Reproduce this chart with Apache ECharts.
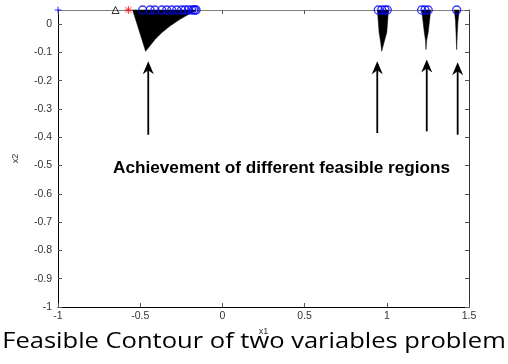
<!DOCTYPE html>
<html>
<head>
<meta charset="utf-8">
<script src="https://cdn.jsdelivr.net/npm/echarts@6/dist/echarts.min.js"></script>
<style>
  html, body { margin: 0; padding: 0; background: #fff; }
  #chart { width: 508px; height: 364px; }
</style>
</head>
<body>
<div id="chart"></div>
<script>
// Axis extents and tick spacing
const xRange = [-1, 1.5];
const xStep = 0.5;
const yRange = [-1, 0.05];
const yStep = 0.1;

// Feasible regions (outline vertices, x1/x2)
const region1 = [[-0.546, 0.05], [-0.467, -0.096], [-0.410, -0.054], [-0.369, -0.030], [-0.319, -0.007],
                 [-0.258, 0.017], [-0.207, 0.034], [-0.167, 0.046], [-0.161, 0.05]];
const region2 = [[0.943, 0.05], [0.953, -0.029], [0.963, -0.065], [0.969, -0.096], [0.983, -0.065],
                 [1.000, -0.029], [1.010, 0.05]];
const region3 = [[1.212, 0.05], [1.228, -0.029], [1.236, -0.060], [1.238, -0.090], [1.242, -0.060],
                 [1.252, -0.029], [1.267, 0.05]];
const region4 = [[1.411, 0.05], [1.418, 0.010], [1.421, -0.030], [1.425, -0.090], [1.429, -0.030],
                 [1.433, 0.010], [1.441, 0.05]];
const regions = [region1, region2, region3, region4];

// Points found on the upper boundary
const circleX = [-0.485, -0.440, -0.410, -0.369, -0.339, -0.308, -0.278, -0.248, -0.227, -0.207,
                 -0.187, -0.175, -0.167, -0.160, 0.948, 0.969, 0.989, 1.003, 1.212, 1.232, 1.252, 1.425];
const circleY = 0.05;
const startPoint = [-1, 0.05];
const starPoint = [-0.572, 0.05];
const trianglePoint = [-0.650, 0.05];

// Arrows: x position, tail and head heights
const arrowX = [-0.451, 0.942, 1.243, 1.431];
const arrowTail = [-0.391, -0.385, -0.379, -0.391];
const arrowHead = [-0.131, -0.131, -0.125, -0.135];

const noteText = 'Achievement of different feasible regions';
const captionText = 'Feasible Contour of two variables problem';

const chart = echarts.init(document.getElementById('chart'), null, { renderer: 'canvas' });

const tickFont = { fontFamily: 'Liberation Sans, Arial, sans-serif', fontSize: 10.5, color: '#333' };

const baseX = {
  type: 'value', min: xRange[0], max: xRange[1], interval: xStep,
  splitLine: { show: false },
  axisTick: { show: true, inside: true, length: 4, lineStyle: { color: '#555' } }
};
const baseY = {
  type: 'value', min: yRange[0], max: yRange[1], interval: yStep,
  splitLine: { show: false },
  axisTick: { show: true, inside: true, length: 4, lineStyle: { color: '#555' } }
};

chart.setOption({
  animation: false,
  backgroundColor: '#fff',
  grid: { left: 58, right: 39, top: 10, bottom: 57, containLabel: false },
  xAxis: [
    Object.assign({}, baseX, {
      position: 'bottom',
      axisLine: { show: true, onZero: false, lineStyle: { color: '#000', width: 1 } },
      axisLabel: Object.assign({ margin: 4, showMaxLabel: true }, tickFont),
      name: 'x1', nameLocation: 'middle', nameGap: 16,
      nameTextStyle: { fontFamily: 'Liberation Sans, Arial, sans-serif', fontSize: 9, color: '#333' }
    }),
    Object.assign({}, baseX, {
      position: 'top',
      axisLine: { show: true, onZero: false, lineStyle: { color: '#808080', width: 1 } },
      axisLabel: { show: false }
    })
  ],
  yAxis: [
    Object.assign({}, baseY, {
      position: 'left',
      axisLine: { show: true, onZero: false, lineStyle: { color: '#000', width: 1 } },
      axisLabel: Object.assign({ margin: 6, showMaxLabel: false }, tickFont),
      name: 'x2', nameLocation: 'middle', nameGap: 38, nameRotate: 90,
      nameTextStyle: { fontFamily: 'Liberation Sans, Arial, sans-serif', fontSize: 9, color: '#333' }
    }),
    Object.assign({}, baseY, {
      position: 'right',
      axisLine: { show: true, onZero: false, lineStyle: { color: '#333', width: 1 } },
      axisLabel: { show: false }
    })
  ],
  series: [
    {
      // filled feasible regions
      type: 'custom',
      coordinateSystem: 'cartesian2d',
      data: regions.map(r => r[0]),
      renderItem: function (params, api) {
        const pts = regions[params.dataIndex].map(p => api.coord(p));
        return { type: 'polygon', shape: { points: pts }, style: { fill: '#000', stroke: '#000', lineWidth: 0.5 } };
      },
      z: 2
    },
    {
      // arrows pointing at each region
      type: 'custom',
      coordinateSystem: 'cartesian2d',
      data: arrowX.map((x, i) => [x, arrowTail[i], arrowHead[i]]),
      renderItem: function (params, api) {
        const b = api.coord([api.value(0), api.value(1)]);
        const t = api.coord([api.value(0), api.value(2)]);
        return {
          type: 'group',
          children: [
            { type: 'line', shape: { x1: b[0], y1: b[1], x2: t[0], y2: t[1] + 8 },
              style: { stroke: '#000', lineWidth: 1.8 } },
            { type: 'polygon',
              shape: { points: [[t[0], t[1]], [t[0] - 5.5, t[1] + 13], [t[0], t[1] + 9], [t[0] + 5.5, t[1] + 13]] },
              style: { fill: '#000' } }
          ]
        };
      },
      z: 3
    },
    {
      type: 'scatter',
      clip: false,
      data: circleX.map(x => [x, circleY]),
      symbol: 'circle', symbolSize: 8,
      itemStyle: { color: 'rgba(0,0,0,0)', borderColor: '#0000ff', borderWidth: 1.3 },
      z: 4
    },
    {
      type: 'scatter',
      clip: false,
      data: [startPoint],
      symbol: 'path://M0,5L10,5M5,0L5,10', symbolSize: 7,
      itemStyle: { color: 'rgba(0,0,0,0)', borderColor: '#0000ff', borderWidth: 1 },
      z: 5
    },
    {
      type: 'scatter',
      clip: false,
      data: [starPoint],
      symbol: 'path://M0,5L10,5M5,0L5,10M1.5,1.5L8.5,8.5M8.5,1.5L1.5,8.5', symbolSize: 8,
      itemStyle: { color: 'rgba(0,0,0,0)', borderColor: '#ff0000', borderWidth: 1 },
      z: 5
    },
    {
      type: 'scatter',
      clip: false,
      data: [trianglePoint],
      symbol: 'triangle', symbolSize: 7,
      itemStyle: { color: 'rgba(0,0,0,0)', borderColor: '#000', borderWidth: 1 },
      z: 5
    }
  ],
  graphic: [
    {
      type: 'text', left: 113, top: 160,
      style: { text: noteText, fontFamily: 'Liberation Sans, Arial, sans-serif', fontWeight: 'bold',
               fontSize: 17.2, fill: '#000' },
      z: 10
    },
    {
      type: 'text', x: 254, y: 342, scaleX: 1.16,
      style: { text: captionText, fontFamily: 'Open Sans, sans-serif', fontSize: 22, fill: '#000',
               textAlign: 'center', textVerticalAlign: 'middle' },
      z: 10
    }
  ]
});
</script>
</body>
</html>
